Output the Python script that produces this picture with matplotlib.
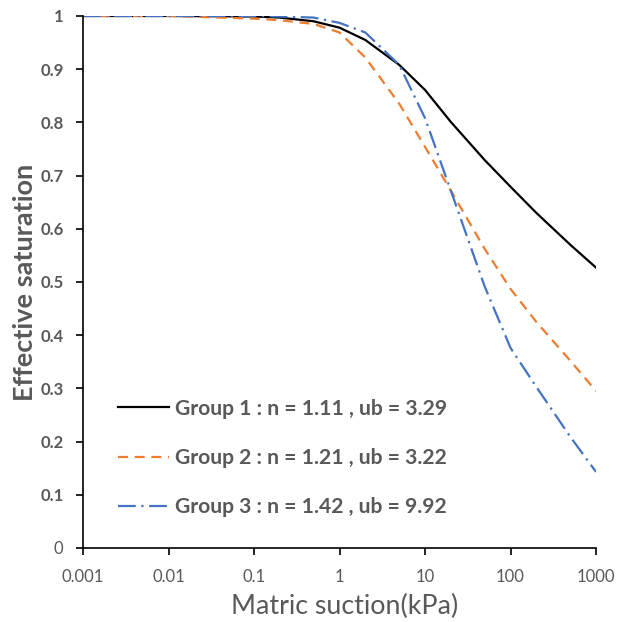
import numpy as np
import matplotlib.pyplot as plt

# matric suction (kPa) and effective saturation for each group
suction = [0.001, 0.01, 0.1, 0.2, 0.5, 1, 2, 5, 10, 20, 50, 100, 200, 500, 1000]
se_group1 = [1.0, 1.0, 0.999, 0.997, 0.99, 0.978, 0.955, 0.908, 0.861, 0.801, 0.729, 0.679, 0.63, 0.57, 0.527]
se_group2 = [1.0, 1.0, 0.995, 0.992, 0.985, 0.969, 0.922, 0.835, 0.754, 0.672, 0.562, 0.487, 0.425, 0.352, 0.295]
se_group3 = [1.0, 1.0, 1.0, 0.999, 0.997, 0.987, 0.969, 0.908, 0.808, 0.672, 0.491, 0.376, 0.303, 0.209, 0.143]

labels = ['Group 1 : n = 1.11 , ub = 3.29',
          'Group 2 : n = 1.21 , ub = 3.22',
          'Group 3 : n = 1.42 , ub = 9.92']

grey = '#595959'
font = 'Lato'

fig = plt.figure(figsize=(6.27, 6.22), dpi=100)
ax = fig.add_axes([0.1324, 0.119, 0.8182, 0.8553])

ax.plot(suction, se_group1, '-', color='black', lw=1.6, label=labels[0])
ax.plot(suction, se_group2, color='#ed7d31', lw=1.6, dashes=(4.5, 3), label=labels[1])
ax.plot(suction, se_group3, color='#4472c4', lw=1.6, dashes=(8, 2.5, 1, 2.5), label=labels[2])

ax.set_xscale('log')
ax.set_xlim(0.001, 1000)
ax.set_ylim(0, 1)
ax.set_xticks([0.001, 0.01, 0.1, 1, 10, 100, 1000])
ax.set_xticklabels(['0.001', '0.01', '0.1', '1', '10', '100', '1000'],
                   fontfamily=font, color=grey, fontsize=12)
ax.minorticks_off()
ax.set_yticks(np.arange(0, 1.01, 0.1))
ax.set_yticklabels(['0'] + ['%g' % v for v in np.arange(0.1, 1.01, 0.1)],
                   fontfamily=font, color=grey, fontsize=12, fontweight='bold')
ax.get_yticklabels()[0].set_fontweight('normal')

for s in ['top', 'right']:
    ax.spines[s].set_visible(False)
for s in ['left', 'bottom']:
    ax.spines[s].set_linewidth(1.2)
ax.tick_params(axis='both', direction='out', length=5, width=1.2)
ax.tick_params(axis='y', pad=9)
ax.tick_params(axis='x', pad=10)

ax.set_xlabel('Matric suction(kPa)', fontfamily=font, fontsize=19.3, color=grey)
ax.xaxis.set_label_coords(0.51, -0.087)
ax.set_ylabel('Effective saturation', fontfamily=font, fontsize=19.5, color=grey,
              fontweight='bold', labelpad=2)

leg = ax.legend(loc='upper left', bbox_to_anchor=(0.032, 0.316), frameon=False,
                handlelength=2.4, handletextpad=0.3, labelspacing=1.38,
                prop={'family': font, 'weight': 'bold', 'size': 15.2})
for t in leg.get_texts():
    t.set_color(grey)

fig.savefig('out.png', dpi=100)
